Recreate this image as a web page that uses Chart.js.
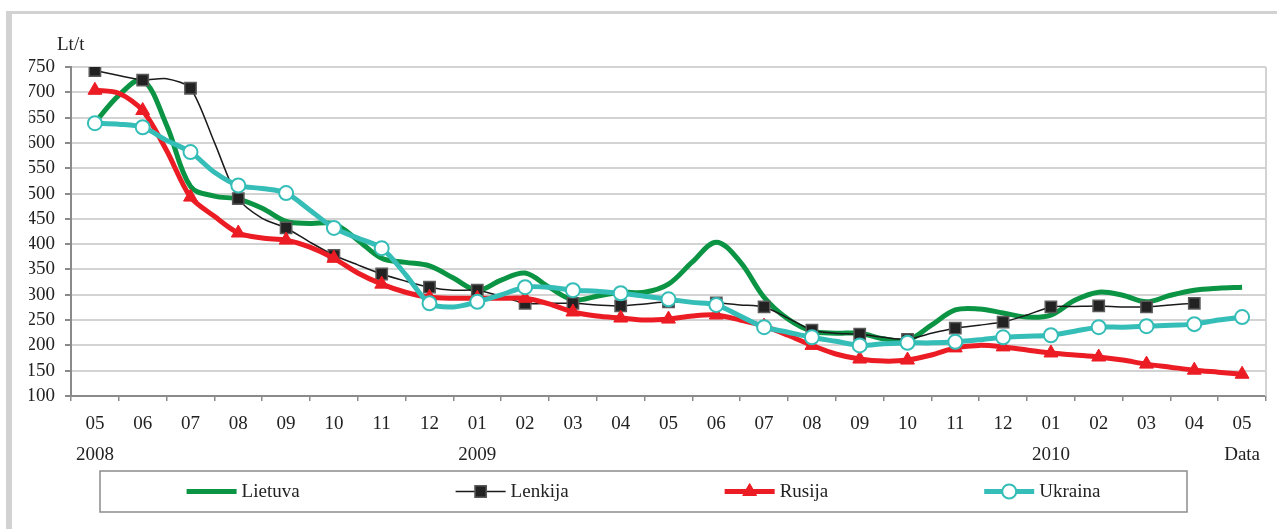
<!DOCTYPE html>
<html><head><meta charset="utf-8">
<script src="https://cdn.jsdelivr.net/npm/chart.js@4.4.1/dist/chart.umd.min.js"></script>
<style>
html,body{margin:0;padding:0;background:#fff;}
#wrap{position:relative;width:1277px;height:529px;overflow:hidden;}
#frame{position:absolute;left:6px;top:11px;right:-10px;bottom:-10px;border-left:6px solid #d2d2d2;border-top:3px solid #d2d2d2;pointer-events:none;}
canvas{position:absolute;left:0;top:0;}
</style></head><body>
<div id="wrap"><canvas id="c" width="1277" height="529"></canvas><div id="frame"></div></div>
<script>
// Tick labels (one per month, May 2008 .. May 2010)
const monthLabels = ['05','06','07','08','09','10','11','12','01','02','03','04','05','06','07','08','09','10','11','12','01','02','03','04','05'];
const yearLabels  = ['2008','','','','','','','','2009','','','','','','','','','','','','2010','','','','Data'];
const unitLabel = 'Lt/t';
const seriesNames = ['Lietuva','Lenkija','Rusija','Ukraina'];

// Values every half month (markers on the whole months)
const lietuva = [640,694,724,635,514,495,489,471,445,441,440,408,372,364,357,333,309,329,343,315,290,297,305,305,321,365,404,365,295,252,228,224,224,213,210,240,270,272,264,256,260,289,305,299,286,299,309,313,315];
const lenkija = [743,733,724,727,708,601,490,451,432,404,378,359,341,327,315,309,309,297,283,283,283,280,278,282,286,285,284,280,276,254,230,224,222,216,212,224,234,240,246,260,276,277,278,276,276,280,283,null,null];
const rusija  = [704,698,664,585,493,455,422,412,408,394,372,343,321,305,295,293,293,293,293,282,266,258,254,250,252,258,260,250,238,220,200,183,173,169,171,181,195,200,197,191,185,181,177,171,163,157,151,147,143];
const ukraina = [639,637,631,605,582,542,516,510,501,467,432,412,392,340,283,276,286,300,315,315,309,307,303,297,291,285,280,258,236,226,216,208,200,203,205,205,207,211,216,218,220,228,236,236,238,240,242,250,256];

const positions = lietuva.map((_, i) => i / 2); // month index of each half-month sample

const FONT = '"Liberation Serif", "Times New Roman", serif';
const onMonth = r => ctx => (ctx.dataIndex % 2 === 0 ? r : 0);

const datasets = [
  {label: seriesNames[0], data: lietuva, borderColor:'#0b9444', backgroundColor:'#0b9444', borderWidth:5,
   pointRadius:0, tension:0.35, order:4, mk:null},
  {label: seriesNames[1], data: lenkija, borderColor:'#1a1a1a', backgroundColor:'#222222', borderWidth:1.5,
   pointStyle:'rect', pointRadius:onMonth(8), pointBackgroundColor:'#222222', pointBorderColor:'#5a5a5a', pointBorderWidth:1.5,
   tension:0.25, order:3, mk:{style:'rect', r:8, fill:'#222222', stroke:'#5a5a5a', w:1.5}},
  {label: seriesNames[2], data: rusija, borderColor:'#ec1c24', backgroundColor:'#ec1c24', borderWidth:5,
   pointStyle:'triangle', pointRadius:onMonth(8), pointBackgroundColor:'#ec1c24', pointBorderColor:'#ec1c24', pointBorderWidth:1,
   tension:0.3, order:2, mk:{style:'triangle', r:8, fill:'#ec1c24', stroke:'#ec1c24', w:1}},
  {label: seriesNames[3], data: ukraina, borderColor:'#35bdb7', backgroundColor:'#ffffff', borderWidth:5,
   pointStyle:'circle', pointRadius:onMonth(7), pointBackgroundColor:'#ffffff', pointBorderColor:'#35bdb7', pointBorderWidth:2,
   tension:0.3, order:1, mk:{style:'circle', r:7, fill:'#ffffff', stroke:'#35bdb7', w:2}}
];

function drawMarker(ctx, mk, x, y){
  if(!mk) return;
  ctx.save();
  ctx.fillStyle = mk.fill; ctx.strokeStyle = mk.stroke; ctx.lineWidth = mk.w;
  ctx.beginPath();
  if(mk.style === 'rect'){
    const s = Math.SQRT1_2 * mk.r;
    ctx.rect(x - s, y - s, 2*s, 2*s);
  } else if(mk.style === 'triangle'){
    let a = 0;
    ctx.moveTo(x + Math.sin(a)*mk.r, y - Math.cos(a)*mk.r);
    a += 2*Math.PI/3; ctx.lineTo(x + Math.sin(a)*mk.r, y - Math.cos(a)*mk.r);
    a += 2*Math.PI/3; ctx.lineTo(x + Math.sin(a)*mk.r, y - Math.cos(a)*mk.r);
    ctx.closePath();
  } else {
    ctx.arc(x, y, mk.r, 0, Math.PI*2);
  }
  ctx.fill(); ctx.stroke();
  ctx.restore();
}

const decorPlugin = {
  id: 'decor',
  beforeDatasetsDraw(chart){
    const {ctx, chartArea:a} = chart;
    ctx.save();
    ctx.strokeStyle = '#d3d3d3'; ctx.lineWidth = 2;
    ctx.beginPath(); ctx.moveTo(a.right, a.top); ctx.lineTo(a.right, a.bottom); ctx.stroke();
    ctx.restore();
  },
  afterDraw(chart){
    const {ctx, chartArea:a} = chart;
    ctx.save();
    ctx.fillStyle = '#222';
    ctx.font = '19px ' + FONT;
    ctx.textBaseline = 'middle';
    ctx.textAlign = 'left';
    ctx.fillText(unitLabel, a.left - 14, a.top - 22);
    // legend box
    const bx = a.left + 29, by = 471, bw = 1087, bh = 41;
    ctx.strokeStyle = '#8c8c8c'; ctx.lineWidth = 1.5;
    ctx.strokeRect(bx, by, bw, bh);
    const cy = by + bh/2;
    const sample = 50, gapText = 5, gap = 156;
    const widths = chart.data.datasets.map(d => ctx.measureText(d.label).width);
    const total = widths.reduce((s, w) => s + sample + gapText + w, 0) + gap*(widths.length-1);
    let x = bx + bw/2 - total/2;
    chart.data.datasets.forEach((d, i) => {
      ctx.strokeStyle = d.borderColor; ctx.lineWidth = d.borderWidth;
      ctx.beginPath(); ctx.moveTo(x, cy); ctx.lineTo(x + sample, cy); ctx.stroke();
      drawMarker(ctx, d.mk, x + sample/2, cy);
      ctx.fillStyle = '#222';
      ctx.fillText(d.label, x + sample + gapText, cy + 1);
      x += sample + gapText + widths[i] + gap;
    });
    ctx.restore();
  }
};

new Chart(document.getElementById('c'), {
  type: 'line',
  data: { labels: positions, datasets },
  options: {
    responsive: false,
    animation: false,
    events: [],
    spanGaps: false,
    layout: { padding: { top: 67, left: 29, right: 11, bottom: 60 } },
    plugins: { legend: { display: false }, tooltip: { enabled: false } },
    scales: {
      x: {
        type: 'linear', min: -0.5, max: 24.5,
        afterBuildTicks: s => { s.ticks = monthLabels.concat(['']).map((_, k) => ({ value: k - 0.5 })); },
        ticks: {
          autoSkip: false, maxRotation: 0, minRotation: 0, labelOffset: 23.9, padding: 7.5,
          color: '#222', font: { family: FONT, size: 19, lineHeight: 31/19 },
          callback: (v, i) => i < monthLabels.length ? [monthLabels[i], yearLabels[i]] : ''
        },
        grid: { drawOnChartArea: false, drawTicks: true, tickLength: 5, color: '#8a8a8a', lineWidth: 1.5 },
        border: { display: true, color: '#8a8a8a', width: 2 },
        afterFit: s => { s.height = 73; }
      },
      y: {
        min: 100, max: 750,
        ticks: { stepSize: 50, autoSkip: false, padding: 10, color: '#222', font: { family: FONT, size: 19 } },
        grid: { color: '#d3d3d3', lineWidth: 2, tickLength: 6, tickColor: '#8a8a8a', drawTicks: true },
        border: { display: true, color: '#8a8a8a', width: 2 },
        afterFit: s => { s.width = 42; }
      }
    }
  },
  plugins: [decorPlugin]
});
</script>
</body></html>
